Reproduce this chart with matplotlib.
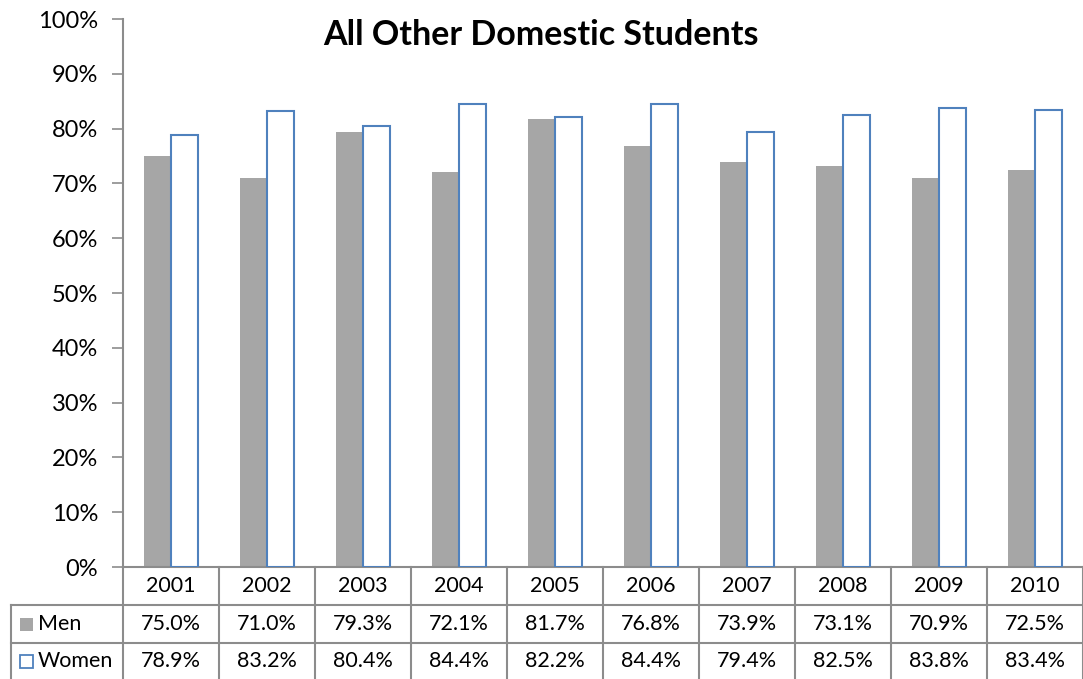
import numpy as np
import matplotlib.pyplot as plt
from matplotlib.patches import Rectangle
from matplotlib.ticker import PercentFormatter

years = ['2001', '2002', '2003', '2004', '2005', '2006', '2007', '2008', '2009', '2010']
men = [75.0, 71.0, 79.3, 72.1, 81.7, 76.8, 73.9, 73.1, 70.9, 72.5]
women = [78.9, 83.2, 80.4, 84.4, 82.2, 84.4, 79.4, 82.5, 83.8, 83.4]

plt.rcParams['font.family'] = ['Lato', 'DejaVu Sans']

W, H = 1083, 679
fig = plt.figure(figsize=(W / 100, H / 100), dpi=100)
left, right, top, bottom = 123, 1083, 19, 567
ax = fig.add_axes([left / W, 1 - bottom / H, (right - left) / W, (bottom - top) / H])

grey = '#A6A6A6'
blue = '#4F81BD'
line_c = '#8C8C8C'

x = np.arange(len(years))
bw = 0.285
ax.bar(x - bw / 2, men, width=bw, color=grey, edgecolor='none', zorder=2)
ax.bar(x + bw / 2, women, width=bw, color='white', edgecolor=blue, linewidth=1.5, zorder=3)

ax.set_xlim(-0.5, len(years) - 0.5)
ax.set_ylim(0, 100)
ax.set_yticks(np.arange(0, 101, 10))
ax.yaxis.set_major_formatter(PercentFormatter(decimals=0))
ax.tick_params(axis='y', direction='out', length=8, width=1.2, color=line_c,
               labelsize=17, pad=10)
ax.set_xticks([])
for s in ['top', 'right']:
    ax.spines[s].set_visible(False)
ax.spines['left'].set_color(line_c)
ax.spines['left'].set_linewidth(1.5)
ax.spines['bottom'].set_color(line_c)
ax.spines['bottom'].set_linewidth(1.5)

fig.text(541 / W, 1 - 35 / H, 'All Other Domestic Students', ha='center', va='center',
         fontsize=24.5, fontweight='bold')

# data table under the plot, rows in axes-fraction units
trans = ax.get_xaxis_transform()
ph = bottom - top
r1 = -(605 - bottom) / ph
r2 = -(643 - bottom) / ph
r3 = -(H - bottom) / ph - 0.01
lx = -0.5 - (left - 11) / 96

kw = dict(transform=trans, clip_on=False, color=line_c, lw=1.5)
for b in np.arange(-0.5, len(years) + 0.5, 1):
    ax.plot([b, b], [0, r3], **kw)
ax.plot([lx, len(years) - 0.5], [r1, r1], **kw)
ax.plot([lx, len(years) - 0.5], [r2, r2], **kw)
ax.plot([lx, lx], [r1, r3], **kw)

fs = 15.5
for i in range(len(years)):
    ax.text(i, (0 + r1) / 2, years[i], transform=trans, ha='center', va='center', fontsize=fs)
    ax.text(i, (r1 + r2) / 2, f'{men[i]:.1f}%', transform=trans, ha='center', va='center', fontsize=fs)
    ax.text(i, (r2 + r3 + 0.01) / 2, f'{women[i]:.1f}%', transform=trans, ha='center', va='center', fontsize=fs)

# legend keys in the first column
fig.patches.append(Rectangle((20 / W, 1 - 631 / H), 13 / W, 13 / H, transform=fig.transFigure,
                             facecolor=grey, edgecolor='none'))
fig.patches.append(Rectangle((20 / W, 1 - 668 / H), 13 / W, 13 / H, transform=fig.transFigure,
                             facecolor='white', edgecolor=blue, lw=1.3))
fig.text(38 / W, 1 - 624 / H, 'Men', ha='left', va='center', fontsize=fs)
fig.text(38 / W, 1 - 661 / H, 'Women', ha='left', va='center', fontsize=fs)

fig.savefig('out.png', dpi=100)
